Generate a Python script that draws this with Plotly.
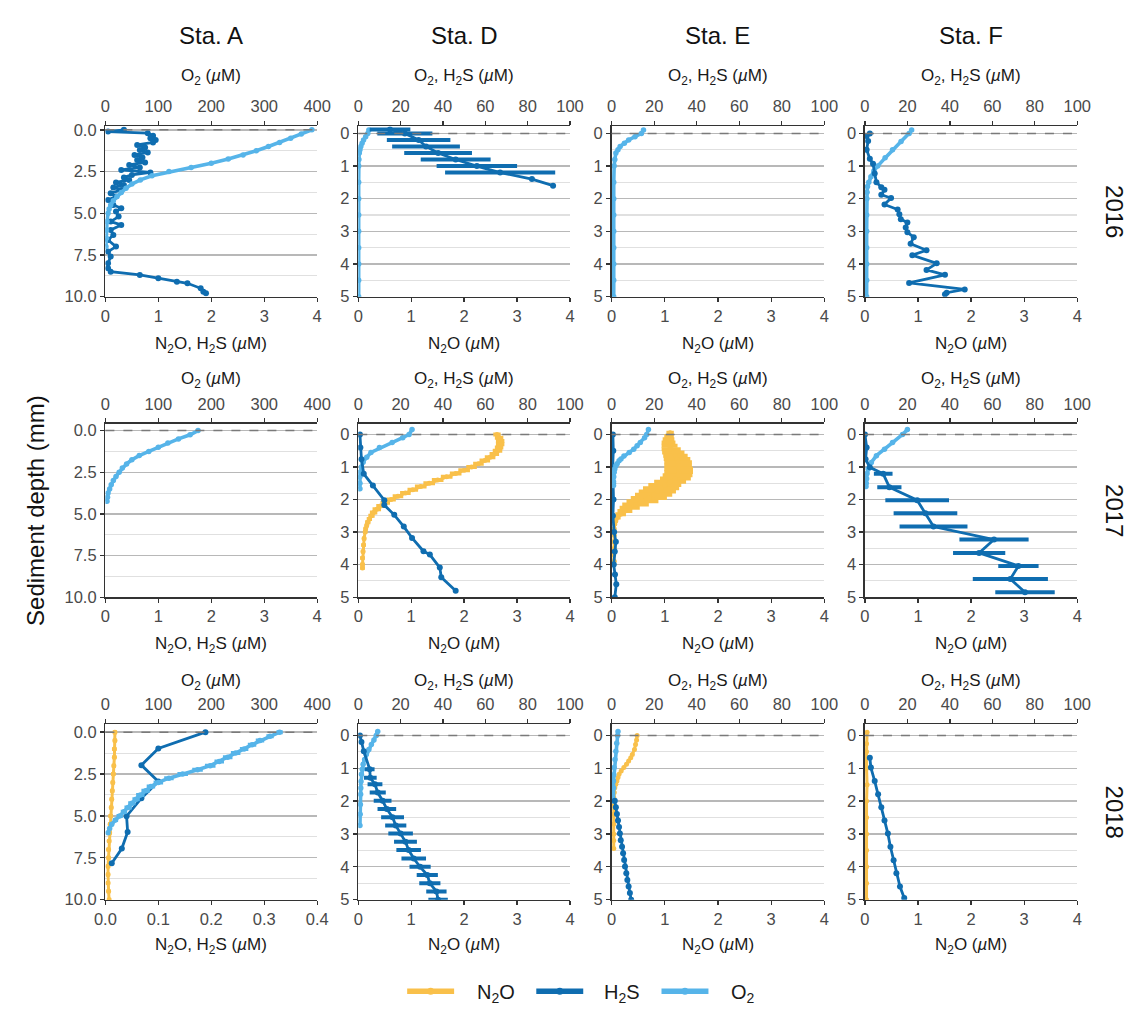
import plotly.graph_objects as go

# ---------------- data (depth in mm, concentrations in uM) ----------------
STATIONS = ["Sta. A", "Sta. D", "Sta. E", "Sta. F"]
YEARS = ["2016", "2017", "2018"]

# 2016 - Sta. A
A16_O2_depth = [0.0, 0.25, 0.5, 0.75, 1.0, 1.25, 1.5, 1.75, 2.0, 2.25, 2.5, 2.75, 3.0, 3.25, 3.5,
                3.75, 4.0, 4.25, 4.5, 4.75, 5.0, 5.5, 6.0, 6.5, 7.0]
A16_O2 = [390, 370, 350, 329, 308, 285, 260, 232, 200, 162, 120, 88, 66, 50, 39,
          30, 22, 15, 10, 7, 5, 3, 2, 2, 1]
A16_H2S_depth = [0.0, 0.1, 0.2, 0.35, 0.5, 0.6, 0.75, 0.9, 1.05, 1.2, 1.35, 1.5, 1.65, 1.8, 1.95,
                 2.1, 2.25, 2.4, 2.55, 2.7, 2.85, 3.0, 3.15, 3.3, 3.45, 3.6, 3.8, 4.0, 4.2, 4.5,
                 4.7, 4.9, 5.2, 5.5, 5.7, 6.0, 6.3, 6.6, 7.0, 7.3, 7.6, 8.0, 8.3, 8.5, 8.7,
                 8.9, 9.1, 9.2, 9.5, 9.7, 9.8]
A16_H2S = [0.35, 0.05, 0.8, 0.9, 0.85, 0.95, 0.9, 0.6, 0.75, 0.65, 0.8, 0.55, 0.7, 0.6, 0.75,
           0.45, 0.65, 0.3, 0.85, 0.5, 0.35, 0.45, 0.2, 0.35, 0.15, 0.3, 0.1, 0.2, 0.05, 0.15,
           0.3, 0.2, 0.25, 0.1, 0.3, 0.1, 0.15, 0.05, 0.2, 0.05, 0.1, 0.05, 0.05, 0.1, 0.65,
           1.0, 1.35, 1.55, 1.8, 1.85, 1.9]

# 2016 - Sta. D
D16_O2_depth = [-0.1, 0.0, 0.1, 0.2, 0.3, 0.4, 0.5, 0.6, 0.8, 1.0, 1.5, 2.0, 2.5, 3.0, 3.5, 4.0, 4.5, 5.0]
D16_O2 = [5, 4.5, 3.5, 2.5, 1.8, 1.2, 0.8, 0.5, 0.3, 0.2, 0.2, 0.2, 0.2, 0.2, 0.2, 0.2, 0.2, 0.2]
D16_H2S_depth = [-0.12, 0.0, 0.2, 0.4, 0.6, 0.8, 1.0, 1.2, 1.4, 1.6]
D16_H2S = [15, 22, 28.5, 32, 37.7, 46, 56, 67, 82, 92]
D16_H2S_err = [9.6, 13, 15, 16, 16, 16.5, 19, 26, 0, 0]

# 2016 - Sta. E
E16_O2_depth = [-0.1, 0.0, 0.1, 0.2, 0.3, 0.4, 0.5, 0.6, 0.8, 1.0, 1.5, 2.0, 2.5, 3.0, 3.5, 4.0, 4.5, 5.0]
E16_O2 = [15, 14, 11, 8, 6, 4, 3, 2, 1.5, 1.2, 1, 1, 1, 1, 1, 1, 1, 1]

# 2016 - Sta. F
F16_O2_depth = [-0.1, 0.0, 0.25, 0.5, 0.75, 1.0, 1.15, 1.33, 1.5, 1.63, 1.8, 2.0, 2.5, 3.0, 3.5, 4.0, 4.5, 5.0]
F16_O2 = [22, 20.8, 17, 13, 9.5, 6, 4.2, 2.8, 1.8, 1.2, 1.0, 0.9, 0.8, 0.8, 0.8, 0.8, 0.8, 0.8]
F16_H2S_depth = [0.0, 0.08, 0.23, 0.5, 0.78, 0.93, 1.23, 1.5, 1.65, 1.73, 1.88, 1.98, 2.18, 2.33, 2.48,
                 2.63, 2.73, 2.88, 3.03, 3.18, 3.38, 3.58, 3.73, 3.98, 4.18, 4.33, 4.58, 4.78, 4.88, 4.93]
F16_H2S = [2.3, 0.8, 1.5, 0.8, 2.3, 3.8, 4.6, 5.4, 7.7, 9.2, 7.7, 12.3, 9.2, 15.4, 16.2,
           16.9, 20, 19.2, 20, 23, 21.5, 29, 22.3, 33.8, 29, 37.7, 20.8, 47, 38.5, 37.7]

# 2017 - Sta. A
A17_O2_depth = [0.0, 0.25, 0.5, 0.75, 1.0, 1.25, 1.5, 1.75, 2.0, 2.25, 2.5, 2.75, 3.0, 3.25, 3.5, 3.75, 4.0, 4.25]
A17_O2 = [175, 160, 138, 118, 100, 82, 64, 50, 40, 32, 26, 20, 15, 11, 8, 5, 4, 3]

# 2017 - Sta. D
D17_O2_depth = [-0.15, 0.0, 0.1, 0.25, 0.4, 0.55, 0.7, 0.85, 1.0, 1.15, 1.3, 1.5, 1.67]
D17_O2 = [25.4, 24, 21, 16, 10, 6, 4, 2.3, 1.5, 1.0, 0.8, 0.8, 0.8]
D17_H2S_depth = [0.0, 0.4, 0.76, 1.21, 1.57, 2.02, 2.17, 2.47, 2.83, 3.18, 3.59, 3.69, 4.09, 4.39, 4.8]
D17_H2S = [0.8, 1.0, 1.5, 2.6, 6.9, 12.3, 12.3, 17, 21.5, 25.4, 30.8, 33.8, 38.5, 39.2, 46]
D17_N2O_depth = [0.0, 0.1, 0.2, 0.3, 0.4, 0.5, 0.6, 0.7, 0.8, 0.9, 1.0, 1.1, 1.2, 1.3, 1.4, 1.5, 1.6,
                 1.7, 1.8, 1.9, 2.0, 2.1, 2.2, 2.3, 2.4, 2.5, 2.6, 2.7, 2.8, 2.9, 3.0, 3.2, 3.4,
                 3.6, 3.8, 4.0, 4.1]
D17_N2O = [2.62, 2.66, 2.68, 2.68, 2.66, 2.63, 2.57, 2.49, 2.39, 2.27, 2.14, 2.00, 1.84, 1.67, 1.50,
           1.34, 1.18, 1.03, 0.89, 0.75, 0.62, 0.51, 0.42, 0.35, 0.29, 0.25, 0.21, 0.18, 0.16, 0.14,
           0.13, 0.11, 0.10, 0.09, 0.08, 0.08, 0.08]
D17_N2O_err = [0.07, 0.08, 0.08, 0.08, 0.08, 0.09, 0.09, 0.1, 0.1, 0.1, 0.1, 0.11, 0.11, 0.11, 0.11,
               0.11, 0.11, 0.1, 0.1, 0.1, 0.09, 0.09, 0.08, 0.08, 0.07, 0.06, 0.05, 0.05, 0.04, 0.04,
               0.04, 0.04, 0.04, 0.04, 0.04, 0.04, 0.04]

# 2017 - Sta. E
E17_O2_depth = [-0.15, 0.0, 0.1, 0.25, 0.35, 0.45, 0.55, 0.66, 0.75, 0.81, 0.9, 0.96, 1.06, 1.16, 1.3, 1.45, 1.57]
E17_O2 = [17.3, 16.5, 15.5, 13.5, 12, 10.4, 8.3, 5.8, 4.4, 3.5, 2.6, 2.0, 1.5, 1.2, 1.0, 0.9, 0.9]
E17_H2S_depth = [0.0, 0.5, 1.0, 1.5, 2.0, 2.5, 3.0, 3.3, 3.6, 4.0, 4.3, 4.6, 5.0]
E17_H2S = [0.6, 0.8, 0.5, 0.7, 0.9, 0.6, 1.2, 2.0, 1.5, 1.0, 1.6, 2.2, 1.5]
E17_N2O_depth = [-0.05, 0.05, 0.15, 0.25, 0.35, 0.45, 0.55, 0.65, 0.75, 0.85, 0.95, 1.05, 1.15, 1.25,
                 1.35, 1.45, 1.55, 1.65, 1.75, 1.85, 1.95, 2.05, 2.15, 2.25, 2.35, 2.45, 2.55, 2.65,
                 2.75, 2.9, 3.1, 3.3, 3.5, 3.7, 3.9, 4.0]
E17_N2O = [1.10, 1.08, 1.07, 1.07, 1.09, 1.12, 1.16, 1.20, 1.23, 1.25, 1.25, 1.26, 1.26, 1.24,
           1.20, 1.10, 1.00, 0.93, 0.86, 0.79, 0.70, 0.58, 0.45, 0.34, 0.25, 0.17, 0.11, 0.08,
           0.06, 0.05, 0.05, 0.04, 0.05, 0.04, 0.05, 0.04]
E17_N2O_err = [0.07, 0.09, 0.11, 0.13, 0.15, 0.18, 0.21, 0.23, 0.25, 0.26, 0.26, 0.27, 0.27, 0.28,
               0.29, 0.30, 0.31, 0.34, 0.35, 0.35, 0.34, 0.30, 0.25, 0.19, 0.14, 0.10, 0.06, 0.04,
               0.03, 0.02, 0.02, 0.02, 0.02, 0.02, 0.02, 0.02]

# 2017 - Sta. F
F17_O2_depth = [-0.15, 0.0, 0.25, 0.45, 0.65, 0.86, 1.06, 1.2, 1.36, 1.5, 1.6]
F17_O2 = [20, 17.7, 13, 9.2, 5.4, 3, 1.5, 1.0, 0.8, 0.6, 0.5]
F17_H2S_depth = [0.0, 0.4, 0.76, 1.01, 1.21, 1.62, 2.02, 2.42, 2.83, 3.23, 3.64, 4.04, 4.44, 4.85]
F17_H2S = [0, 0.8, 0.3, 2.3, 8.6, 11.5, 24.6, 28.5, 32.3, 60.8, 53.8, 72.3, 68.5, 75.4]
F17_H2S_err = [0, 0, 0, 0, 4.4, 5.7, 15, 15, 16, 16.3, 12.3, 9.5, 17.7, 14]

# 2018 - Sta. A
A18_O2_depth = [0.0, 0.25, 0.5, 0.75, 1.0, 1.25, 1.5, 1.75, 2.0, 2.25, 2.5, 2.75, 3.0, 3.25, 3.5,
                3.75, 4.0, 4.25, 4.5, 4.75, 5.0, 5.25, 5.5, 5.75, 6.0]
A18_O2 = [329, 311, 292, 277, 262, 246, 231, 215, 198, 174, 146, 120, 100, 86, 76,
          66, 58, 50, 43, 35, 27, 19, 12, 8, 5]
A18_O2_err = [6, 7, 8, 8, 8, 9, 9, 9, 10, 10, 10, 9, 9, 8, 8, 8, 7, 7, 7, 6, 6, 5, 4, 3, 2]
A18_H2S_depth = [0.0, 0.98, 1.97, 2.95, 3.94, 5.02, 5.96, 6.95, 7.83]
A18_H2S = [0.189, 0.10, 0.068, 0.10, 0.068, 0.04, 0.042, 0.031, 0.012]
A18_N2O_depth = [0.0, 0.5, 1.0, 1.5, 2.0, 2.5, 3.0, 3.5, 4.0, 4.5, 5.0, 5.5, 6.0, 6.5, 7.0, 7.5,
                 8.0, 8.5, 9.0, 9.5, 10.0]
A18_N2O = [0.018, 0.018, 0.017, 0.017, 0.016, 0.015, 0.014, 0.013, 0.012, 0.011, 0.010, 0.009,
           0.008, 0.007, 0.006, 0.006, 0.005, 0.005, 0.005, 0.006, 0.007]
A18_N2O_err = [0.004, 0.004, 0.004, 0.004, 0.004, 0.004, 0.004, 0.004, 0.004, 0.004, 0.004, 0.004,
               0.004, 0.004, 0.004, 0.004, 0.004, 0.004, 0.004, 0.004, 0.004]

# 2018 - Sta. D
D18_O2_depth = [-0.12, 0.0, 0.14, 0.28, 0.43, 0.58, 0.73, 0.88, 1.03, 1.18, 1.4, 1.6, 1.79, 2.1, 2.4, 2.74]
D18_O2 = [9.2, 8.5, 7.4, 6.2, 5.0, 3.8, 3.0, 2.3, 1.9, 1.5, 1.3, 1.2, 1.1, 1.0, 0.9, 0.8]
D18_H2S_depth = [0.0, 0.2, 0.48, 1.03, 1.29, 1.49, 1.74, 1.99, 2.24, 2.49, 2.74, 2.99, 3.24, 3.49,
                 3.75, 4.0, 4.25, 4.5, 4.75, 5.0]
D18_H2S = [0.8, 1.5, 2.6, 5.4, 5.7, 7.9, 9.2, 11.5, 13.5, 16.2, 17.7, 20, 22.3, 23.8,
           26.2, 29.2, 32.6, 33.8, 36.9, 37.7]
D18_H2S_err = [0, 0, 0, 2.3, 3, 3.5, 3.8, 4.2, 4.4, 5.4, 5, 5.8, 5.4, 5.8, 5.8, 5, 5, 5, 4.8, 4.6]

# 2018 - Sta. E
E18_O2_depth = [-0.12, 0.0, 0.24, 0.48, 0.73, 0.98, 1.2, 1.39, 1.6, 2.0]
E18_O2 = [3.0, 2.8, 2.4, 2.0, 1.6, 1.2, 1.0, 0.9, 0.9, 0.9]
E18_N2O_depth = [0.0, 0.14, 0.28, 0.43, 0.58, 0.68, 0.78, 0.88, 0.98, 1.08, 1.18, 1.28, 1.39, 1.49,
                 1.59, 1.74, 1.89, 2.1, 2.4, 2.7, 3.0, 3.2, 3.44]
E18_N2O = [0.48, 0.47, 0.45, 0.43, 0.39, 0.36, 0.32, 0.28, 0.23, 0.18, 0.14, 0.12, 0.10, 0.08,
           0.06, 0.05, 0.04, 0.04, 0.04, 0.04, 0.04, 0.04, 0.04]
E18_H2S_depth = [1.99, 2.19, 2.39, 2.59, 2.79, 2.99, 3.19, 3.39, 3.59, 3.79, 3.99, 4.2, 4.4, 4.6, 4.8, 5.0]
E18_H2S = [1.5, 2.0, 2.5, 3.0, 3.5, 3.9, 4.3, 4.9, 5.4, 5.9, 6.3, 6.9, 7.4, 8.0, 8.6, 9.2]

# 2018 - Sta. F
F18_N2O_depth = [-0.1, 0.25, 0.5, 1.0, 1.5, 2.0, 2.5, 3.0, 3.5, 4.0, 4.5, 5.0]
F18_N2O = [0.04, 0.03, 0.03, 0.03, 0.04, 0.03, 0.03, 0.03, 0.03, 0.03, 0.03, 0.03]
F18_H2S_depth = [0.68, 0.98, 1.39, 1.79, 2.19, 2.59, 2.99, 3.39, 3.8, 4.2, 4.6, 4.95]
F18_H2S = [2.3, 2.8, 4.6, 6.2, 7.7, 9.2, 10.8, 12.0, 13.5, 14.8, 16.5, 18.5]

LEGEND_KEYS = ["N2O", "H2S", "O2"]
LEGEND_LABELS = ["N<sub>2</sub>O", "H<sub>2</sub>S", "O<sub>2</sub>"]

# ---------------- styling ----------------
C_N2O = "#F9C04A"
C_H2S = "#0F6DB0"
C_O2 = "#56B4E9"
COLORS = {"N2O": C_N2O, "H2S": C_H2S, "O2": C_O2}
LINE_W = {"N2O": 3.0, "H2S": 2.8, "O2": 3.6}
MARK_S = {"N2O": 5, "H2S": 6, "O2": 5.5}
FONT = "Liberation Sans, Arial, Helvetica, sans-serif"

# figure fills the whole window (page margin removed in post_script)
W, H = 1146, 1018


def px_x(p):
    return p / W


def px_y(p):
    return 1 - p / H


COL_PX = [(96.5, 313.0), (355.0, 571.5), (614.0, 831.5), (873.0, 1090.0)]
ROW_PX = [(122.0, 295.0), (424.0, 600.0), (729.0, 907.0)]
Y_TOP = [[-0.22, -0.22, -0.22, -0.22],
         [-0.41, -0.33, -0.33, -0.33],
         [-0.47, -0.34, -0.34, -0.34]]
TOP_TITLE_Y = [72, 380, 686]
BOT_TITLE_Y = [344, 649, 954]
LEG_Y = 1000
LEG_LINE_X = [(405, 453), (537, 585), (665, 713)]
LEG_TEXT_X = [474, 604, 734]

# series per panel: (species, axis side 'b' bottom / 't' top, depth, values, error)
PANELS = {
    (0, 0): [("O2", "t", A16_O2_depth, A16_O2, None), ("H2S", "b", A16_H2S_depth, A16_H2S, None)],
    (0, 1): [("O2", "t", D16_O2_depth, D16_O2, None), ("H2S", "t", D16_H2S_depth, D16_H2S, D16_H2S_err)],
    (0, 2): [("O2", "t", E16_O2_depth, E16_O2, None)],
    (0, 3): [("O2", "t", F16_O2_depth, F16_O2, None), ("H2S", "t", F16_H2S_depth, F16_H2S, None)],
    (1, 0): [("O2", "t", A17_O2_depth, A17_O2, None)],
    (1, 1): [("N2O", "b", D17_N2O_depth, D17_N2O, D17_N2O_err), ("O2", "t", D17_O2_depth, D17_O2, None),
             ("H2S", "t", D17_H2S_depth, D17_H2S, None)],
    (1, 2): [("N2O", "b", E17_N2O_depth, E17_N2O, E17_N2O_err), ("H2S", "t", E17_H2S_depth, E17_H2S, None),
             ("O2", "t", E17_O2_depth, E17_O2, None)],
    (1, 3): [("O2", "t", F17_O2_depth, F17_O2, None), ("H2S", "t", F17_H2S_depth, F17_H2S, F17_H2S_err)],
    (2, 0): [("N2O", "b", A18_N2O_depth, A18_N2O, A18_N2O_err), ("H2S", "b", A18_H2S_depth, A18_H2S, None),
             ("O2", "t", A18_O2_depth, A18_O2, A18_O2_err)],
    (2, 1): [("O2", "t", D18_O2_depth, D18_O2, None), ("H2S", "t", D18_H2S_depth, D18_H2S, D18_H2S_err)],
    (2, 2): [("O2", "t", E18_O2_depth, E18_O2, None), ("N2O", "b", E18_N2O_depth, E18_N2O, None),
             ("H2S", "t", E18_H2S_depth, E18_H2S, None)],
    (2, 3): [("N2O", "b", F18_N2O_depth, F18_N2O, None), ("H2S", "t", F18_H2S_depth, F18_H2S, None)],
}


def ref(letter, k):
    return letter if k == 1 else f"{letter}{k}"


def key(letter, k):
    return f"{letter}axis" if k == 1 else f"{letter}axis{k}"


fig = go.Figure()
layout = {}
shapes = []
annotations = []

axis_common = dict(showline=True, linecolor="#333333", linewidth=1.5, ticks="outside", ticklen=4,
                   tickwidth=1.3, tickcolor="#333333", zeroline=False, mirror=False,
                   tickfont=dict(family=FONT, size=16.5, color="#4a4a4a"), fixedrange=True)

for r in range(3):
    for c in range(4):
        k = r * 4 + c + 1
        x0, x1 = COL_PX[c]
        yt, yb = ROW_PX[r]
        xdom = [px_x(x0), px_x(x1)]
        ydom = [px_y(yb), px_y(yt)]
        isA = c == 0
        # bottom axis
        if isA and r == 2:
            brange, bdtick, bfmt = [0, 0.4], 0.1, ".1f"
        else:
            brange, bdtick, bfmt = [0, 4], 1, "d"
        layout[key("x", k)] = dict(domain=xdom, anchor=ref("y", k), range=brange, tick0=0, dtick=bdtick,
                                   tickformat=bfmt, side="bottom", showgrid=False, **axis_common)
        # top axis
        trange, tdtick = ([0, 400], 100) if isA else ([0, 100], 20)
        layout[key("x", k + 12)] = dict(domain=xdom, anchor=ref("y", k), overlaying=ref("x", k),
                                        range=trange, tick0=0, dtick=tdtick, side="top", showgrid=False,
                                        ticklabelstandoff=2, **axis_common)
        # depth axis
        ymax, ydt, yfmt = (10, 2.5, ".1f") if isA else (5, 1, "d")
        layout[key("y", k)] = dict(domain=ydom, anchor=ref("x", k), range=[ymax, Y_TOP[r][c]], tick0=0,
                                   dtick=ydt, tickformat=yfmt, showgrid=True, gridcolor="#b8b8b8",
                                   gridwidth=1.4,
                                   minor=dict(tick0=0, dtick=ydt / 2, showgrid=True, gridcolor="#e0e0e0",
                                              gridwidth=1.1, ticks=""),
                                   **axis_common)
        # empty trace so that the bottom-axis subplot always exists
        fig.add_trace(go.Scatter(x=[None], y=[None], mode="lines", xaxis=ref("x", k), yaxis=ref("y", k),
                                 showlegend=False, hoverinfo="skip"))
        # dashed sediment surface line
        shapes.append(dict(type="line", xref=f"{ref('x', k)} domain", yref=ref("y", k), x0=0, x1=1,
                           y0=0, y1=0, line=dict(color="#7a7a7a", width=1.5, dash="dash"), layer="above"))
        # traces
        for species, side, depth, vals, err in PANELS[(r, c)]:
            col = COLORS[species]
            xa = ref("x", k) if side == "b" else ref("x", k + 12)
            tr = go.Scatter(x=vals, y=depth, mode="lines+markers", xaxis=xa, yaxis=ref("y", k),
                            line=dict(color=col, width=LINE_W[species]),
                            marker=dict(color=col, size=MARK_S[species]),
                            showlegend=False, hoverinfo="skip")
            if err is not None:
                tr.update(error_x=dict(type="data", array=err, visible=True, color=col,
                                       thickness=4, width=0))
            fig.add_trace(tr)
        # axis titles
        cx = px_x((x0 + x1) / 2)
        top_t = "O<sub>2</sub> (<i>µ</i>M)" if isA else "O<sub>2</sub>, H<sub>2</sub>S (<i>µ</i>M)"
        bot_t = "N<sub>2</sub>O, H<sub>2</sub>S (<i>µ</i>M)" if isA else "N<sub>2</sub>O (<i>µ</i>M)"
        annotations.append(dict(text=top_t, x=cx, y=px_y(TOP_TITLE_Y[r]), xref="paper", yref="paper",
                                showarrow=False, xanchor="center", yanchor="middle",
                                font=dict(family=FONT, size=17, color="#1a1a1a")))
        annotations.append(dict(text=bot_t, x=cx, y=px_y(BOT_TITLE_Y[r]), xref="paper", yref="paper",
                                showarrow=False, xanchor="center", yanchor="middle",
                                font=dict(family=FONT, size=17, color="#1a1a1a")))

# column titles
for c, name in enumerate(STATIONS):
    x0, x1 = COL_PX[c]
    annotations.append(dict(text=name, x=px_x((x0 + x1) / 2), y=px_y(30), xref="paper", yref="paper",
                            showarrow=False, xanchor="center", yanchor="middle",
                            font=dict(family=FONT, size=24, color="#111111")))
# row labels
for r, yr in enumerate(YEARS):
    yt, yb = ROW_PX[r]
    annotations.append(dict(text=yr, x=px_x(1128), y=px_y((yt + yb) / 2), xref="paper", yref="paper",
                            showarrow=False, xanchor="center", yanchor="middle", textangle=90,
                            font=dict(family=FONT, size=24, color="#111111")))
# common y title
annotations.append(dict(text="Sediment depth (mm)", x=px_x(25), y=px_y(512), xref="paper", yref="paper",
                        showarrow=False, xanchor="center", yanchor="middle", textangle=-90,
                        font=dict(family=FONT, size=24, color="#111111")))

# legend (drawn manually to match the long key lines)
for i, sp in enumerate(LEGEND_KEYS):
    lx0, lx1 = LEG_LINE_X[i]
    shapes.append(dict(type="line", xref="paper", yref="paper", x0=px_x(lx0), x1=px_x(lx1),
                       y0=px_y(LEG_Y), y1=px_y(LEG_Y), line=dict(color=COLORS[sp], width=5.5)))
    shapes.append(dict(type="circle", xref="paper", yref="paper", xsizemode="pixel", ysizemode="pixel",
                       xanchor=px_x((lx0 + lx1) / 2), yanchor=px_y(LEG_Y), x0=-3.5, x1=3.5, y0=-3.5, y1=3.5,
                       fillcolor=COLORS[sp], line=dict(width=0)))
    annotations.append(dict(text=LEGEND_LABELS[i], x=px_x(LEG_TEXT_X[i]), y=px_y(LEG_Y + 2), xref="paper",
                            yref="paper", showarrow=False, xanchor="left", yanchor="middle",
                            font=dict(family=FONT, size=20, color="#1a1a1a")))

fig.update_layout(
    width=W, height=H, margin=dict(l=0, r=0, t=0, b=0),
    paper_bgcolor="white", plot_bgcolor="white",
    font=dict(family=FONT), showlegend=False,
    shapes=shapes, annotations=annotations,
    **layout,
)

fig.write_html("out.html", config={"displayModeBar": False, "staticPlot": True},
               post_script="document.body.style.margin='0';document.body.style.overflow='hidden';")
